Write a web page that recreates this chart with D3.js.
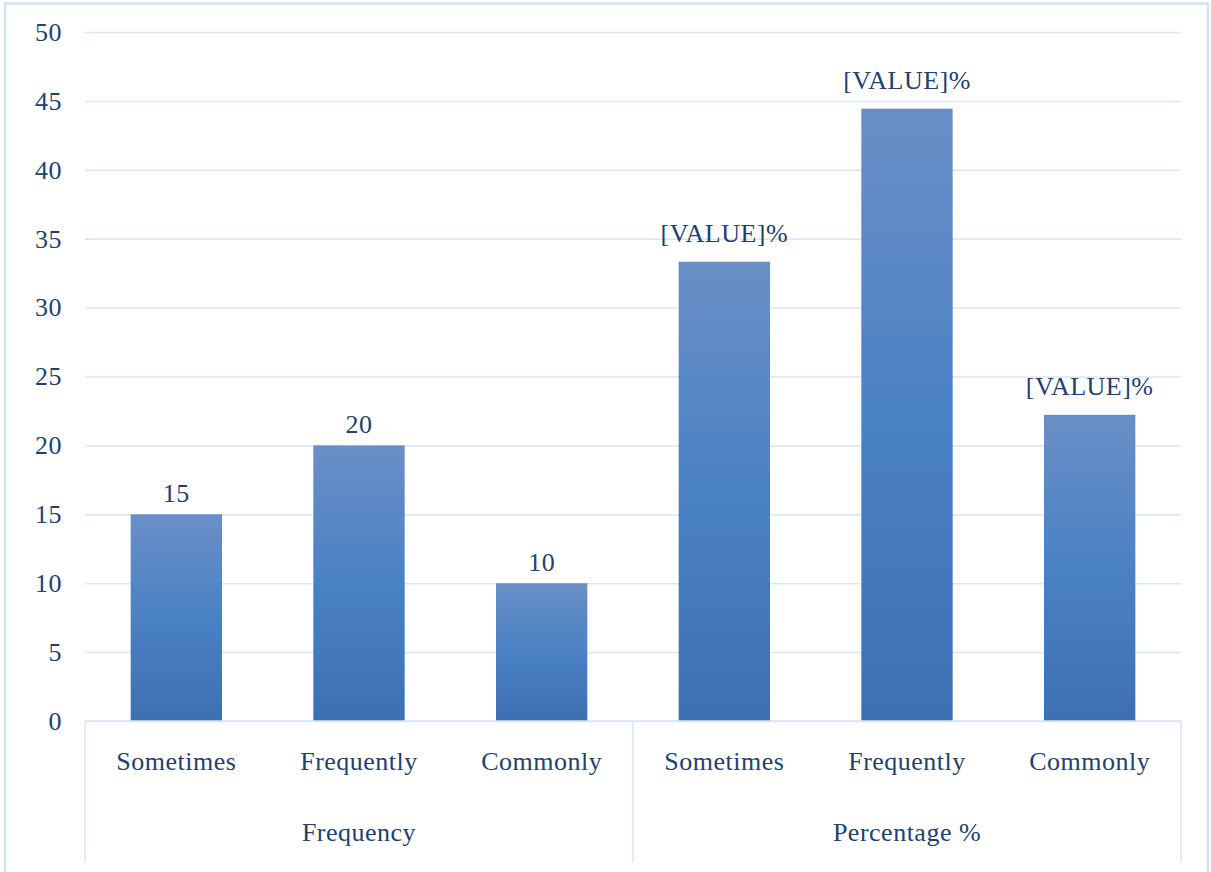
<!DOCTYPE html>
<html>
<head>
<meta charset="utf-8">
<script src="https://cdn.jsdelivr.net/npm/d3@7"></script>
<style>
  html, body { margin: 0; padding: 0; background: #fff; }
  svg { display: block; }
</style>
</head>
<body>
<svg id="chart" width="1211" height="872"></svg>
<script>
const groups = ["Frequency", "Percentage %"];
const categories = ["Sometimes", "Frequently", "Commonly"];
const frequencyValues = [15, 20, 10];
const percentageValues = [33.33, 44.44, 22.22];
const frequencyLabels = ["15", "20", "10"];
const percentageLabels = ["[VALUE]%", "[VALUE]%", "[VALUE]%"];
const yTicks = [0, 5, 10, 15, 20, 25, 30, 35, 40, 45, 50];

const data = [];
groups.forEach((g, gi) => {
  const vals = gi === 0 ? frequencyValues : percentageValues;
  const labs = gi === 0 ? frequencyLabels : percentageLabels;
  categories.forEach((c, ci) => {
    data.push({ key: g + "|" + c, group: g, gi: gi, cat: c, value: vals[ci], label: labs[ci] });
  });
});

const FONT = "'Liberation Serif', 'Times New Roman', serif";
const TEXT_COLOR = "#223f6e";
const LS = "0.5px";
const svg = d3.select("#chart").attr("font-family", FONT);
const plotLeft = 85, plotRight = 1181, plotTop = 32, plotBottom = 721;
const fontSize = 26;

// outer frame
svg.append("rect").attr("x", 5).attr("y", 3.5).attr("width", 1203).attr("height", 900)
  .attr("fill", "#fff").attr("stroke", "#d3e1f1").attr("stroke-width", 2.5);

const x = d3.scaleBand().domain(data.map(d => d.key)).range([plotLeft, plotRight]).paddingInner(0.5).paddingOuter(0.25);
const xGroup = d3.scaleBand().domain(groups).range([plotLeft, plotRight]);
const y = d3.scaleLinear().domain([0, 50]).range([plotBottom, plotTop]);

// gradient
const defs = svg.append("defs");
const grad = defs.append("linearGradient").attr("id", "barGrad").attr("x1", 0).attr("y1", 0).attr("x2", 0).attr("y2", 1);
grad.append("stop").attr("offset", "0%").attr("stop-color", "#6a8fc6");
grad.append("stop").attr("offset", "50%").attr("stop-color", "#4a81c5");
grad.append("stop").attr("offset", "100%").attr("stop-color", "#3d70b1");

// gridlines + y tick labels via axis
const yAxis = d3.axisLeft(y).tickValues(yTicks).tickSize(-(plotRight - plotLeft)).tickPadding(23);
const gy = svg.append("g").attr("transform", `translate(${plotLeft},0)`).call(yAxis)
  .attr("font-family", FONT).attr("font-size", fontSize);
gy.select(".domain").remove();
gy.selectAll(".tick line").attr("stroke", "#d9e5f3").attr("stroke-width", 1.5);
gy.selectAll(".tick text").attr("font-family", FONT)
  .attr("font-size", fontSize).attr("fill", TEXT_COLOR).style("letter-spacing", LS);

// separators for category axis
const sepXs = [plotLeft].concat(groups.map(g => xGroup(g) + xGroup.bandwidth()));
svg.selectAll("line.sep").data(sepXs).enter().append("line")
  .attr("class", "sep")
  .attr("x1", d => d).attr("x2", d => d).attr("y1", plotBottom).attr("y2", 862)
  .attr("stroke", "#d9e5f3").attr("stroke-width", 1.5);

// bars
svg.selectAll("rect.bar").data(data).enter().append("rect")
  .attr("class", "bar")
  .attr("x", d => x(d.key)).attr("width", x.bandwidth())
  .attr("y", d => y(d.value)).attr("height", d => y(0) - y(d.value))
  .attr("fill", "url(#barGrad)");

// baseline
svg.append("line").attr("x1", plotLeft).attr("x2", plotRight).attr("y1", y(0)).attr("y2", y(0))
  .attr("stroke", "#d9e5f3").attr("stroke-width", 1.5);

// value labels
svg.selectAll("text.val").data(data).enter().append("text")
  .attr("class", "val")
  .attr("x", d => x(d.key) + x.bandwidth() / 2)
  .attr("y", d => y(d.value) - (d.gi === 0 ? 12 : 20))
  .attr("text-anchor", "middle").attr("font-size", fontSize)
  .attr("font-family", FONT).attr("fill", TEXT_COLOR).style("letter-spacing", LS)
  .text(d => d.label);

// category labels
svg.selectAll("text.cat").data(data).enter().append("text")
  .attr("class", "cat")
  .attr("x", d => x(d.key) + x.bandwidth() / 2)
  .attr("y", 770)
  .attr("text-anchor", "middle").attr("font-size", fontSize)
  .attr("font-family", FONT).attr("fill", TEXT_COLOR).style("letter-spacing", LS)
  .text(d => d.cat);

// group labels
svg.selectAll("text.grp").data(groups).enter().append("text")
  .attr("class", "grp")
  .attr("x", d => xGroup(d) + xGroup.bandwidth() / 2)
  .attr("y", 841)
  .attr("text-anchor", "middle").attr("font-size", fontSize)
  .attr("font-family", FONT).attr("fill", TEXT_COLOR).style("letter-spacing", LS)
  .text(d => d);
</script>
</body>
</html>
